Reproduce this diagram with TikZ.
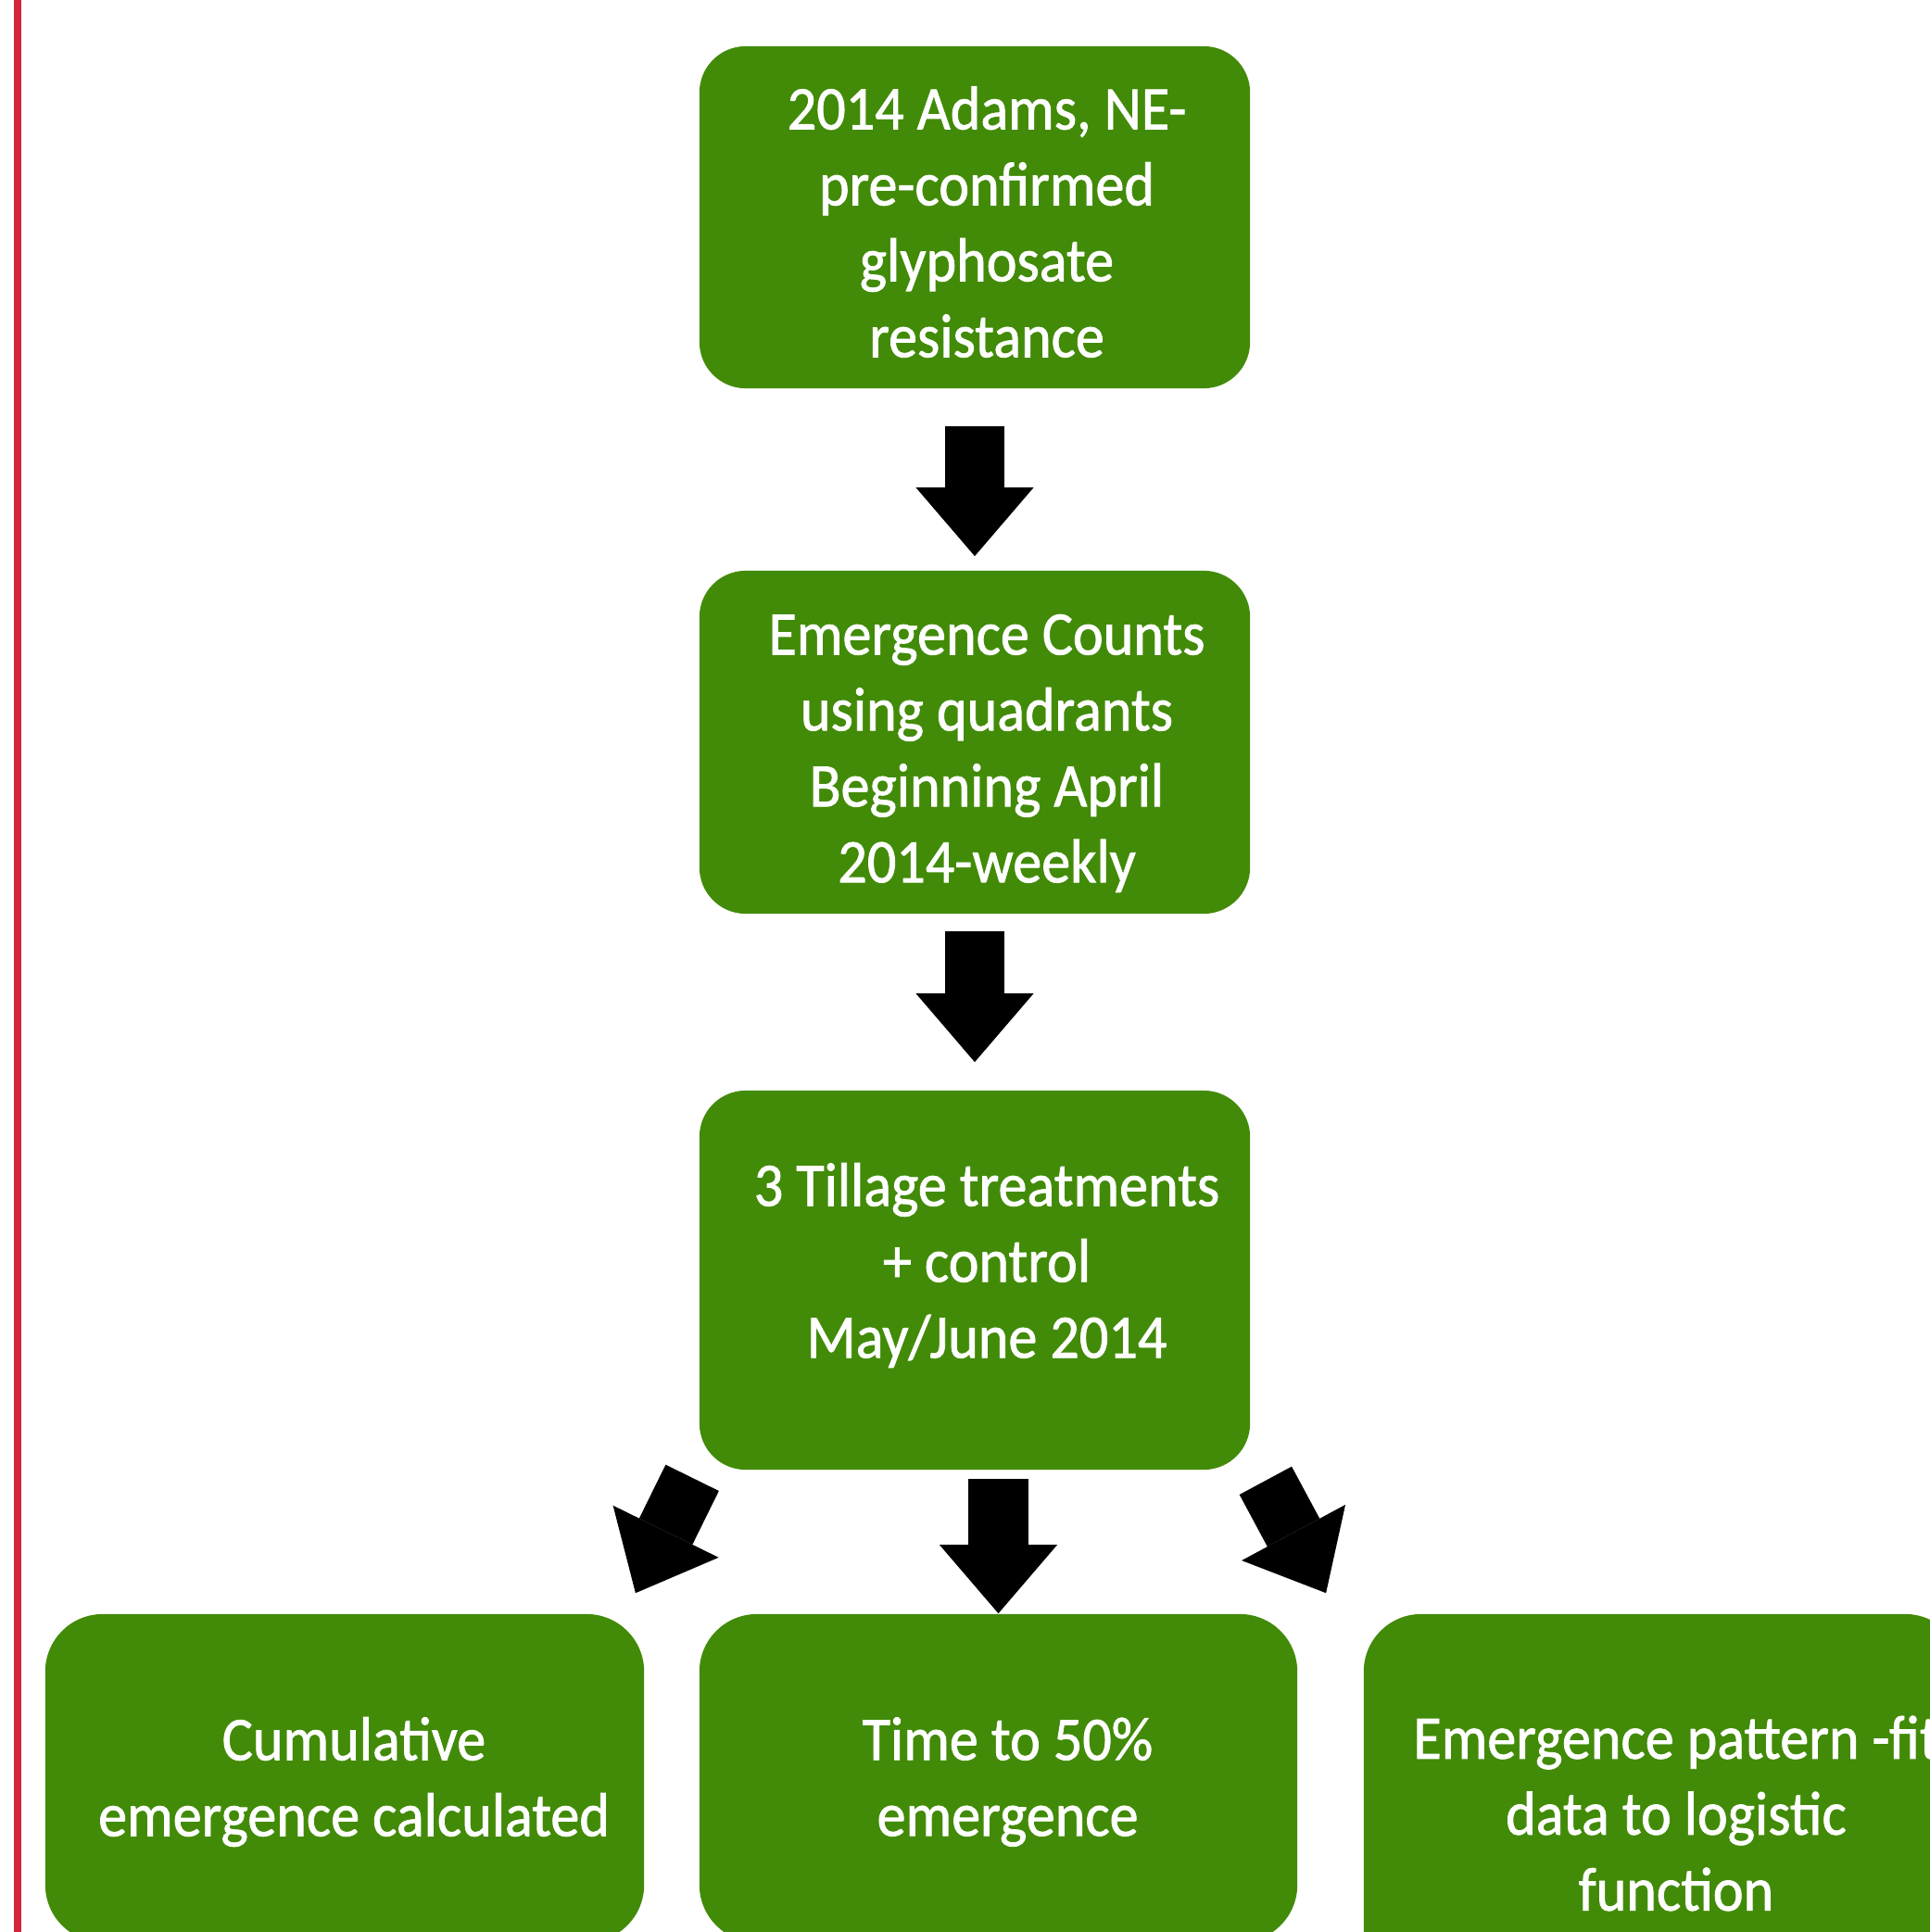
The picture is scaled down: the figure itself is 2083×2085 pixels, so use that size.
\documentclass[tikz,border=0pt]{standalone}
\usepackage{fontspec}
\newfontfamily\boxfont[FakeStretch=0.93, FakeBold=1.2]{Carlito}
\usetikzlibrary{arrows.meta,calc}

\definecolor{boxgreen}{RGB}{66,139,8}
\definecolor{edgered}{RGB}{213,35,60}

\tikzset{
	greenbox/.style={fill=boxgreen, inner sep=0pt, rounded corners=#1},
	greenbox/.default=0.5cm,
	boxtext/.style={text=white, align=center, inner sep=0pt,
		font=\boxfont\fontsize{19pt}{23.3pt}\selectfont},
	blockarrow/.style={line width=0.64cm,
		-{Triangle[length=0.74cm, width=1.27cm, line width=0pt]}},
}

\begin{document}
\begin{tikzpicture}[x=0.01cm, y=-0.01cm]
	\useasboundingbox (0,0) rectangle (2083,2085);
	\clip (0,0) rectangle (2083,2085);
	\fill[edgered] (15,0) rectangle (23,2085);

	% boxes
	\node[greenbox, minimum width=5.94cm, minimum height=3.69cm] (adams) at (1052,234.5) {};
	\node[greenbox, minimum width=5.94cm, minimum height=3.70cm] (counts) at (1052,801) {};
	\node[greenbox, minimum width=5.94cm, minimum height=4.09cm] (tillage) at (1052,1381.5) {};
	\node[greenbox=0.62cm, minimum width=6.46cm, minimum height=3.54cm] (cumulative) at (372,1919) {};
	\node[greenbox=0.62cm, minimum width=6.45cm, minimum height=3.54cm] (timefifty) at (1077.5,1919) {};
	\node[greenbox=0.62cm, minimum width=6.46cm, minimum height=4.36cm] (pattern) at (1795,1960) {};

	% texts
	\node[boxtext] (adams text) at ($(adams)+(13,5)$) {2014 Adams, NE-\\pre-confirmed\\glyphosate\\resistance};
	\node[boxtext] (counts text) at ($(counts)+(13,12)$) {Emergence Counts\\using quadrants\\Beginning April\\2014-weekly};
	\node[boxtext] (tillage text) at ($(tillage)+(13,-16)$) {3 Tillage treatments\\+ control\\May/June 2014};
	\node[boxtext] (cumulative text) at ($(cumulative)+(10,4)$) {Cumulative\\emergence calculated};
	\node[boxtext] (timefifty text) at ($(timefifty)+(10,4)$) {Time to 50\%\\emergence};
	\node[boxtext] (pattern text) at ($(pattern)+(14,-3)$) {Emergence pattern -fit\\data to logistic\\function};

	% arrows
	\draw[blockarrow, shorten <=0.40cm, shorten >=0.15cm] (adams) -- (counts);
	\draw[blockarrow, shorten <=0.18cm, shorten >=0.30cm] (counts) -- (tillage);
	\draw[blockarrow, shorten <=0.09cm] (tillage.south -| timefifty.north) -- (timefifty.north);
	\draw[blockarrow] ($(tillage.south west)+(-7,8)$) -- ($(cumulative.north east)+(-10,-22)$);
	\draw[blockarrow] ($(tillage.south east)+(16,11)$) -- ($(pattern.north west)+(-40,-22)$);

\end{tikzpicture}
\end{document}
